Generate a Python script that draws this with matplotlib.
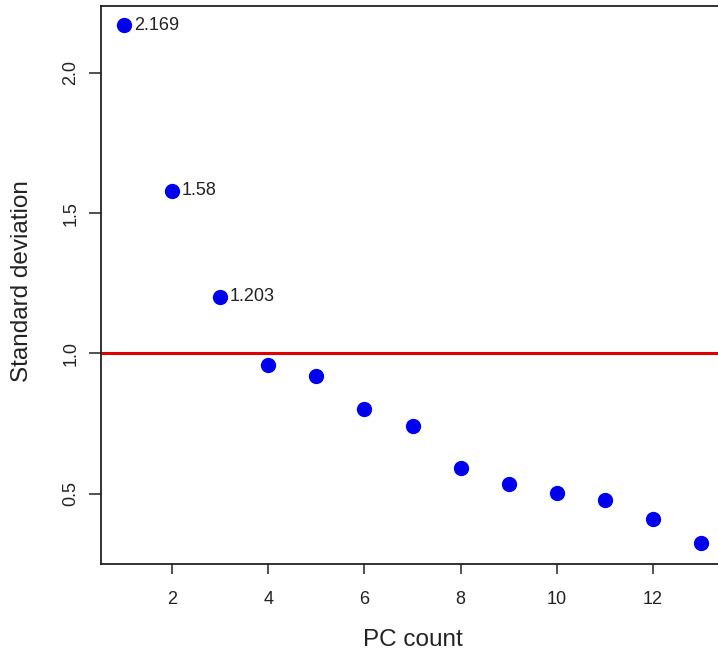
import matplotlib
matplotlib.use("Agg")
import matplotlib.pyplot as plt

plt.rcParams['font.family'] = ['Liberation Sans', 'DejaVu Sans']

# PCA standard deviations per component
pc_count = [1, 2, 3, 4, 5, 6, 7, 8, 9, 10, 11, 12, 13]
std_dev = [2.169, 1.58, 1.203, 0.959, 0.921, 0.801, 0.741, 0.591,
           0.536, 0.503, 0.477, 0.411, 0.326]
labelled = [0, 1, 2]
x_ticks = [2, 4, 6, 8, 10, 12]
y_ticks = [0.5, 1.0, 1.5, 2.0]

fig = plt.figure(figsize=(7.18, 6.6), dpi=100)
# plot box runs a little past the right edge of the image, like the original
ax = fig.add_axes([101 / 718, 96 / 660, 623 / 718, 558 / 660])

ax.scatter(pc_count, std_dev, s=100, color='#0000ee', zorder=3, clip_on=False)
ax.axhline(1.0, color='#e00000', linewidth=2.2, zorder=2)

for i in labelled:
    ax.annotate(str(std_dev[i]), (pc_count[i], std_dev[i]), xytext=(7, 0),
                textcoords='offset points', ha='left', va='center',
                fontsize=13, color='#222222')

xr = max(pc_count) - min(pc_count)
ax.set_xlim(min(pc_count) - 0.04 * xr, max(pc_count) + 0.04 * xr)
ax.set_ylim(0.250, 2.238)

ax.set_xticks(x_ticks)
ax.set_yticks(y_ticks)
ax.set_xticklabels([str(t) for t in x_ticks])
ax.set_yticklabels([f"{t:.1f}" for t in y_ticks], rotation=90, va='center')
ax.tick_params(direction='out', width=1.2, labelsize=13, labelcolor='#222222',
               color='#333333')
ax.tick_params(axis='x', length=7.5, pad=12)
ax.tick_params(axis='y', length=8.5, pad=7)

for s in ax.spines.values():
    s.set_linewidth(1.3)
    s.set_color('#222222')

ax.set_xlabel('PC count', fontsize=17.5, color='#222222', va='center')
ax.set_ylabel('Standard deviation', fontsize=17.5, color='#222222', va='center')
ax.xaxis.set_label_coords(0.5, (564 - 640) / 558)
ax.yaxis.set_label_coords((22 - 101) / 623, (564 - 281) / 558)

fig.savefig('out.png', dpi=100)
